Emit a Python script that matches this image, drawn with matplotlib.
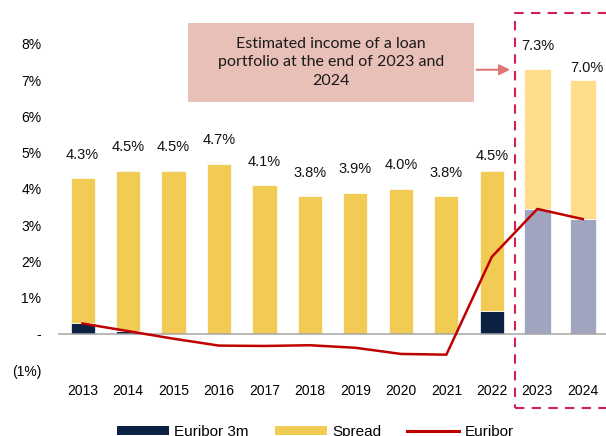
import numpy as np
import matplotlib
matplotlib.use("Agg")
import matplotlib.pyplot as plt
from matplotlib.patches import Patch, Rectangle, FancyArrowPatch
from matplotlib.lines import Line2D

plt.rcParams["font.family"] = ["Liberation Sans", "DejaVu Sans"]

# datos (%)
years = ["2013", "2014", "2015", "2016", "2017", "2018", "2019", "2020", "2021", "2022", "2023", "2024"]
total = [4.3, 4.5, 4.5, 4.7, 4.1, 3.8, 3.9, 4.0, 3.8, 4.5, 7.3, 7.0]
euribor_bar = [0.29, 0.08, 0, 0, 0, 0, 0, 0, 0, 0.64, 3.45, 3.17]
euribor_line = [0.29, 0.08, -0.13, -0.32, -0.33, -0.31, -0.38, -0.55, -0.57, 2.13, 3.45, 3.17]
labels = ["4.3%", "4.5%", "4.5%", "4.7%", "4.1%", "3.8%", "3.9%", "4.0%", "3.8%", "4.5%", "7.3%", "7.0%"]
yticks = [-1, 0, 1, 2, 3, 4, 5, 6, 7, 8]
ytick_labels = ["(1%)", "-", "1%", "2%", "3%", "4%", "5%", "6%", "7%", "8%"]

NAVY = "#0b2244"
SPREAD = "#f2cb55"
SPREAD_EST = "#ffdd8a"
EST = "#a0a4bf"
RED = "#c00000"
CRIMSON = "#d6204f"

n_hist = 10
x = np.arange(len(years))
spread = [t - b for t, b in zip(total, euribor_bar)]
is_est = x >= n_hist
col_low = [EST if e else NAVY for e in is_est]
col_up = [SPREAD_EST if e else SPREAD for e in is_est]
widths = [0.58 if e else 0.53 for e in is_est]

fig = plt.figure(figsize=(6.06, 4.36), dpi=100)
ax = fig.add_axes([58 / 606, 65.75 / 436, 548 / 606, 326.25 / 436])

ax.bar(x, euribor_bar, width=widths, color=col_low, edgecolor="white", lw=0.5, zorder=2)
ax.bar(x, spread, bottom=euribor_bar, width=widths, color=col_up, edgecolor="white", lw=0.5, zorder=2)
ax.plot(x, euribor_line, color=RED, lw=1.8, zorder=4)
ax.axhline(0, color="#a6a6a6", lw=1.1, zorder=3)

# etiquetas de total sobre cada barra
offset = [0.65] * len(years)
offset[9] = 0.42
offset[11] = 0.35
for xi, t, lab, off in zip(x, total, labels, offset):
    dx = 0.1 if xi == 11 else 0
    ax.text(xi + dx, t + off, lab, ha="center", va="center", fontsize=10.5, color="#111")

ax.set_xlim(-0.54, 11.51)
ax.set_ylim(-1, 8)
ax.set_xticks(x)
ax.set_xticklabels(years, fontsize=10)
ax.set_yticks(yticks)
ax.set_yticklabels(ytick_labels, fontsize=10)
ax.tick_params(axis="x", length=0, pad=10)
ax.tick_params(axis="y", length=0, pad=12)
for sp in ax.spines.values():
    sp.set_visible(False)

# recuadro de estimaciones 2023-2024
ax.add_patch(Rectangle((9.505, -2.04), 3.0, 10.9, fill=False, edgecolor=CRIMSON, lw=1.5,
                       ls=(0, (4.5, 3.5)), clip_on=False, zorder=5))

# cuadro explicativo y flecha
ax.add_patch(Rectangle((2.32, 6.40), 6.28, 2.18, facecolor="#e9c0b7", edgecolor="none",
                       clip_on=False, zorder=5))
ax.text(5.46, 7.5, "Estimated income of a loan\nportfolio at the end of 2023 and\n2024",
        ha="center", va="center", fontsize=11.5, family=["Lato", "DejaVu Sans"],
        color="#1a1a1a", linespacing=1.4, zorder=6)
ax.add_patch(FancyArrowPatch((8.6, 7.29), (9.46, 7.29), arrowstyle="-|>", mutation_scale=16,
                             color="#e07373", lw=1.4, clip_on=False, zorder=6))

handles = [Patch(facecolor=NAVY, label="Euribor 3m"),
           Patch(facecolor=SPREAD, label="Spread"),
           Line2D([0], [0], color=RED, lw=2.2, label="Euribor")]
fig.legend(handles=handles, loc="center", bbox_to_anchor=(0.52, 4 / 436), ncol=3, frameon=False,
           fontsize=11, handlelength=3.4, handleheight=0.6, handletextpad=0.35, columnspacing=1.7)

fig.savefig("out.png", dpi=100)
